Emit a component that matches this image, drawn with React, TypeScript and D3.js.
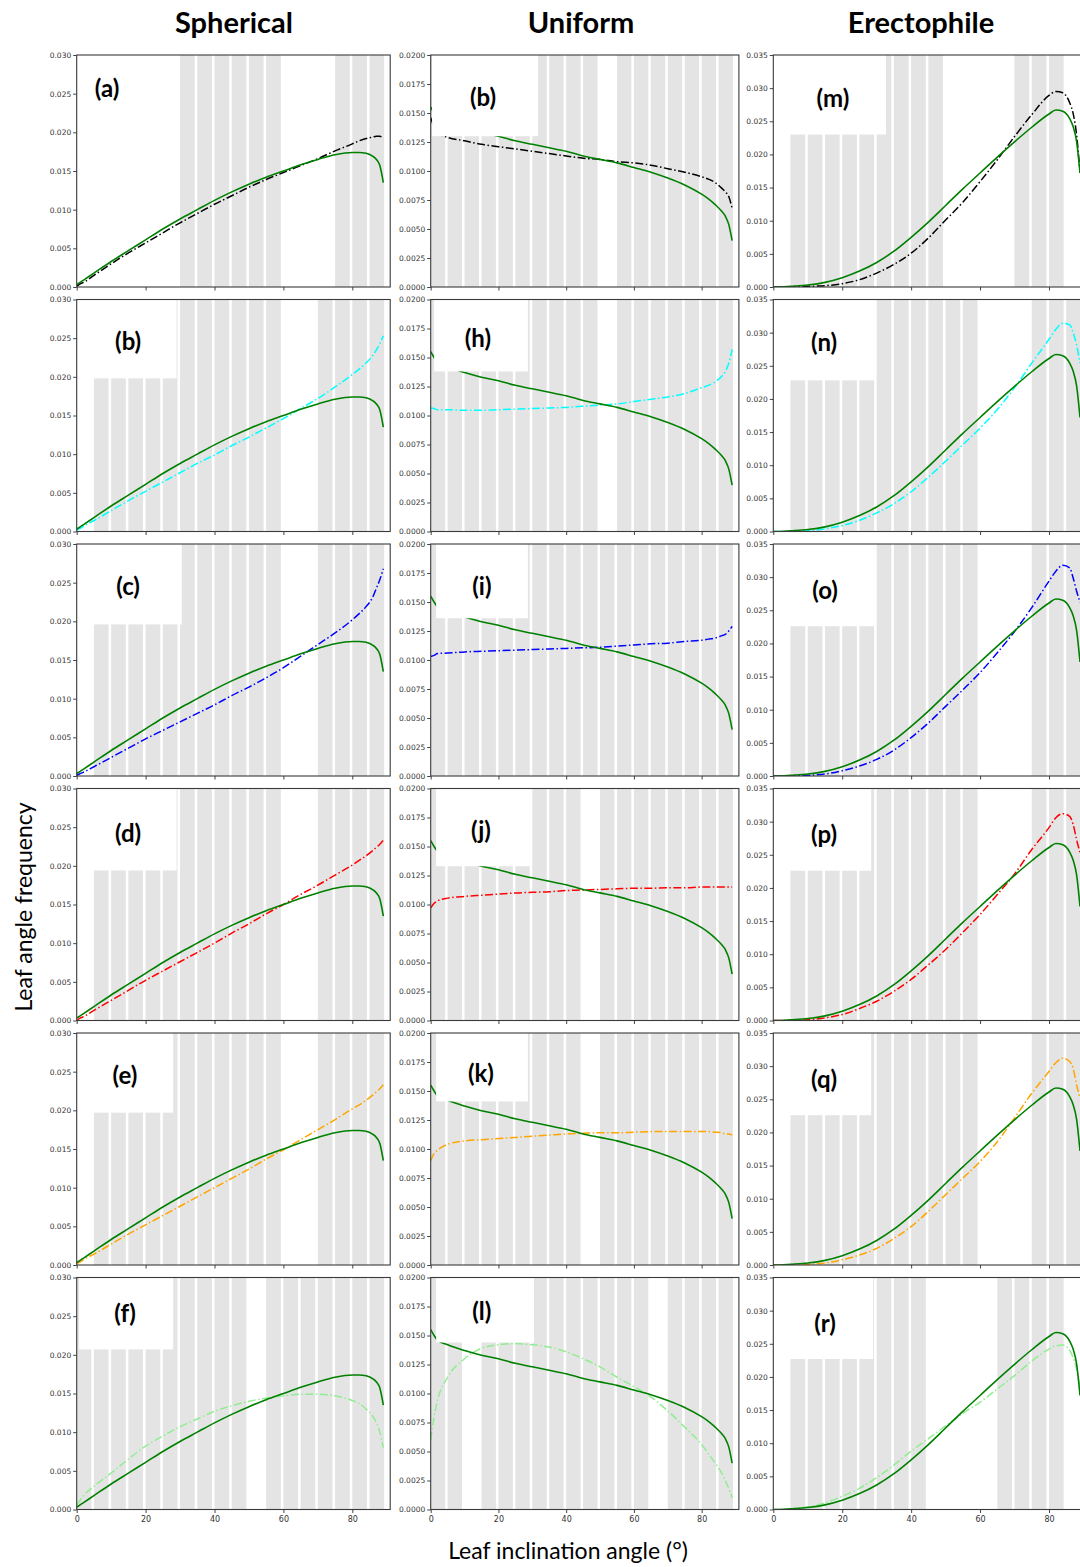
import React, { useEffect, useRef } from "react";
import * as d3 from "d3";

// leaf inclination angles (deg) at which every curve is sampled
const ANGLES = [0, 1, 2, 5, 10, 15, 20, 25, 30, 35, 40, 45, 50, 55, 60, 65, 70, 75, 80, 82, 84, 86, 87, 88, 89];

// fitted reference curves (solid green)
const sphericalFit = [0.0003, 0.0006, 0.0009, 0.0018, 0.0033, 0.0047, 0.0061, 0.0075, 0.0088, 0.0100, 0.0112, 0.0123, 0.0133, 0.0142, 0.0150, 0.0158, 0.0165, 0.0171, 0.0174, 0.0174, 0.0173, 0.0169, 0.0165, 0.0157, 0.0135];
const uniformFit = [0.0155, 0.0150, 0.0146, 0.0142, 0.0137, 0.0133, 0.0130, 0.0126, 0.0123, 0.0120, 0.0117, 0.0113, 0.0110, 0.0107, 0.0103, 0.0099, 0.0094, 0.0088, 0.0080, 0.0076, 0.0071, 0.0065, 0.0061, 0.0054, 0.0040];
const erectophileFit = [0, 0, 0, 0.0001, 0.0003, 0.0007, 0.0014, 0.0024, 0.0037, 0.0054, 0.0075, 0.0098, 0.0123, 0.0148, 0.0172, 0.0196, 0.0219, 0.0241, 0.0261, 0.0267, 0.0265, 0.0254, 0.0242, 0.0220, 0.0172];

// spherical column
const sphA = [0.0001, 0.0004, 0.0006, 0.0015, 0.0030, 0.0044, 0.0057, 0.0070, 0.0083, 0.0095, 0.0107, 0.0118, 0.0129, 0.0139, 0.0148, 0.0157, 0.0166, 0.0176, 0.0185, 0.0189, 0.0192, 0.0194, 0.0195, 0.0195, 0.0192];
const sphB = [0.0002, 0.0004, 0.0007, 0.0014, 0.0027, 0.0040, 0.0052, 0.0064, 0.0076, 0.0088, 0.0099, 0.0111, 0.0122, 0.0134, 0.0146, 0.0159, 0.0172, 0.0187, 0.0203, 0.0210, 0.0218, 0.0228, 0.0235, 0.0243, 0.0253];
const sphC = [0.0001, 0.0003, 0.0005, 0.0012, 0.0024, 0.0036, 0.0048, 0.0059, 0.0070, 0.0081, 0.0092, 0.0104, 0.0115, 0.0127, 0.0140, 0.0155, 0.0170, 0.0185, 0.0202, 0.0210, 0.0219, 0.0232, 0.0243, 0.0254, 0.0268];
const sphD = [0.0000, 0.0003, 0.0005, 0.0013, 0.0026, 0.0039, 0.0052, 0.0064, 0.0076, 0.0088, 0.0100, 0.0113, 0.0125, 0.0138, 0.0150, 0.0163, 0.0175, 0.0188, 0.0201, 0.0207, 0.0213, 0.0220, 0.0224, 0.0228, 0.0233];
const sphE = [0.0002, 0.0004, 0.0007, 0.0014, 0.0027, 0.0040, 0.0052, 0.0064, 0.0076, 0.0088, 0.0100, 0.0112, 0.0124, 0.0137, 0.0149, 0.0162, 0.0175, 0.0188, 0.0202, 0.0207, 0.0213, 0.0220, 0.0224, 0.0228, 0.0233];
const sphF = [0.0006, 0.0012, 0.0018, 0.0030, 0.0047, 0.0065, 0.0082, 0.0095, 0.0107, 0.0117, 0.0127, 0.0134, 0.0140, 0.0144, 0.0147, 0.0149, 0.0149, 0.0147, 0.0141, 0.0137, 0.0130, 0.0120, 0.0112, 0.0100, 0.0080];

// uniform column
const uniB = [0.0146, 0.0138, 0.0133, 0.0129, 0.0126, 0.0123, 0.0121, 0.0119, 0.0117, 0.0115, 0.0113, 0.0111, 0.0110, 0.0108, 0.0107, 0.0105, 0.0102, 0.0099, 0.0095, 0.0093, 0.0090, 0.0085, 0.0082, 0.0078, 0.0068];
const uniH = [0.01065, 0.0106, 0.0105, 0.0105, 0.01045, 0.01045, 0.0105, 0.01055, 0.0106, 0.01065, 0.0107, 0.0108, 0.0109, 0.0110, 0.0112, 0.0114, 0.0116, 0.0119, 0.0124, 0.0126, 0.0129, 0.0134, 0.0138, 0.0145, 0.0157];
const uniI = [0.0103, 0.0104, 0.01055, 0.0106, 0.0107, 0.01075, 0.0108, 0.01085, 0.0109, 0.01095, 0.0110, 0.01105, 0.0111, 0.0112, 0.0113, 0.0114, 0.01145, 0.0116, 0.0117, 0.0118, 0.0119, 0.0121, 0.0122, 0.0125, 0.0129];
const uniJ = [0.0097, 0.0101, 0.0103, 0.01055, 0.0107, 0.0108, 0.0109, 0.0110, 0.01105, 0.0111, 0.0112, 0.01125, 0.0113, 0.01135, 0.0114, 0.0114, 0.01145, 0.01145, 0.0115, 0.0115, 0.0115, 0.0115, 0.0115, 0.0115, 0.0115];
const uniK = [0.0090, 0.0096, 0.0099, 0.0104, 0.0107, 0.0108, 0.0109, 0.0110, 0.0111, 0.0112, 0.0113, 0.01135, 0.0114, 0.0114, 0.01145, 0.0115, 0.0115, 0.0115, 0.0115, 0.0115, 0.01145, 0.0114, 0.0113, 0.0113, 0.0112];
const uniL = [0.0060, 0.0080, 0.0094, 0.0114, 0.0130, 0.0139, 0.0142, 0.0143, 0.0142, 0.0140, 0.0136, 0.0130, 0.0123, 0.0114, 0.0106, 0.0097, 0.0085, 0.0071, 0.0056, 0.0048, 0.0040, 0.0031, 0.0025, 0.0018, 0.0010];

// erectophile column
const ereM = [0, 0, 0, 0, 0.0001, 0.0002, 0.0005, 0.0011, 0.0021, 0.0034, 0.0051, 0.0074, 0.0101, 0.0128, 0.0159, 0.0192, 0.0227, 0.0260, 0.0289, 0.0295, 0.0293, 0.0278, 0.0262, 0.0230, 0.0172];
const ereN = [0, 0, 0, 0, 0.0001, 0.0004, 0.0009, 0.0017, 0.0028, 0.0042, 0.0060, 0.0082, 0.0106, 0.0131, 0.0156, 0.0184, 0.0217, 0.0254, 0.0290, 0.0305, 0.0314, 0.0312, 0.0300, 0.0282, 0.0254];
const ereO = [0, 0, 0, 0, 0.0001, 0.0003, 0.0008, 0.0015, 0.0025, 0.0039, 0.0058, 0.0080, 0.0105, 0.0130, 0.0156, 0.0186, 0.0218, 0.0254, 0.0294, 0.0309, 0.0318, 0.0314, 0.0299, 0.0279, 0.0262];
const ereP = [0, 0, 0, 0, 0.0001, 0.0004, 0.0009, 0.0018, 0.0029, 0.0044, 0.0062, 0.0084, 0.0107, 0.0133, 0.0160, 0.0190, 0.0221, 0.0258, 0.0291, 0.0306, 0.0312, 0.0308, 0.0296, 0.0273, 0.0253];
const ereQ = [0, 0, 0, 0, 0.0001, 0.0003, 0.0008, 0.0015, 0.0025, 0.0040, 0.0058, 0.0081, 0.0106, 0.0131, 0.0156, 0.0186, 0.0222, 0.0259, 0.0292, 0.0305, 0.0312, 0.0307, 0.0297, 0.0272, 0.0252];
const ereR = [0, 0, 0, 0.0001, 0.0004, 0.0010, 0.0020, 0.0032, 0.0048, 0.0067, 0.0088, 0.0107, 0.0126, 0.0145, 0.0162, 0.0182, 0.0202, 0.0224, 0.0242, 0.0247, 0.0248, 0.0240, 0.0229, 0.0212, 0.0184];

// histogram bins (start angle) drawn as grey bars behind the curves
const sphBars = [
  [30, 35, 40, 45, 50, 55, 75, 80, 85],
  [5, 10, 15, 20, 25, 30, 35, 40, 45, 50, 55, 70, 75, 80, 85],
  [5, 10, 15, 20, 25, 30, 35, 40, 45, 50, 55, 70, 75, 80, 85],
  [5, 10, 15, 20, 25, 30, 35, 40, 45, 50, 55, 70, 75, 80, 85],
  [5, 10, 15, 20, 25, 30, 35, 40, 45, 50, 55, 70, 75, 80, 85],
  [0, 5, 10, 15, 20, 25, 30, 35, 40, 45, 55, 60, 65, 70, 75, 80, 85],
];
const uniBars = [
  [0, 5, 10, 15, 20, 25, 30, 35, 40, 45, 55, 60, 65, 70, 75, 80, 85],
  [0, 5, 10, 15, 20, 25, 30, 35, 40, 45, 55, 60, 65, 70, 75, 80, 85],
  [0, 5, 10, 15, 20, 25, 30, 35, 40, 45, 50, 55, 60, 65, 70, 75, 80, 85],
  [0, 5, 10, 15, 20, 25, 30, 35, 40, 50, 55, 60, 65, 70, 75, 80, 85],
  [0, 5, 10, 15, 20, 25, 30, 35, 40, 50, 55, 60, 65, 70, 75, 80, 85],
  [0, 5, 15, 20, 25, 30, 35, 40, 45, 50, 55, 60, 70, 75, 80, 85],
];
const ereBars = [
  [5, 10, 15, 20, 25, 30, 35, 40, 45, 70, 75, 80],
  [5, 10, 15, 20, 25, 30, 35, 40, 45, 50, 55, 75, 80, 85],
  [5, 10, 15, 20, 25, 30, 35, 40, 45, 50, 55, 75, 80, 85],
  [5, 10, 15, 20, 25, 30, 35, 40, 45, 50, 55, 75, 80, 85],
  [5, 10, 15, 20, 25, 30, 35, 40, 45, 50, 55, 75, 80, 85],
  [5, 10, 15, 20, 25, 30, 35, 40, 65, 70, 75, 80],
];

const columnTitles = ["Spherical", "Uniform", "Erectophile"];
const sphLabels = ["(a)", "(b)", "(c)", "(d)", "(e)", "(f)"];
const uniLabels = ["(b)", "(h)", "(i)", "(j)", "(k)", "(l)"];
const ereLabels = ["(m)", "(n)", "(o)", "(p)", "(q)", "(r)"];
const seriesColors = ["black", "cyan", "blue", "red", "orange", "lightgreen"];
const xTicks = [0, 20, 40, 60, 80];

// layout
const COL_X = [76.7, 430.7, 773.3];
const COL_W = [313.5, 308.2, 313.6];
const ROW_TOP = 55;
const ROW_STEP = 244.5;
const PANEL_H = 232;
const BAR_W = 4.25;

// white legend boxes: [x0 deg, x1 deg, bottom value]
const sphBoxes = [null, [1.2, 29, 0.0198], [1.2, 30.5, 0.0196], [1.2, 29, 0.0194], [1.0, 28, 0.0197], [0.7, 28, 0.0207]];
const uniBoxes = [[0.4, 31.7, 0.0130], [1.0, 28.7, 0.0138], [1.6, 28.7, 0.0136], [1.6, 29.3, 0.0133], [1.6, 28.7, 0.0141], [1.6, 30.5, 0.0144]];
const ereBoxes = [[1.1, 32.7, 0.0230], [1.45, 29.2, 0.0228], [1.45, 29.2, 0.0226], [1.45, 28.4, 0.0226], [1.45, 28.4, 0.0226], [1.3, 29.0, 0.0227]];

// label centres in axes fraction
const sphLabelPos = [[0.097, 0.14], [0.164, 0.175], [0.164, 0.181], [0.164, 0.1875], [0.154, 0.177], [0.154, 0.153]];
const uniLabelPos = [[0.17, 0.177], [0.153, 0.162], [0.166, 0.181], [0.163, 0.175], [0.163, 0.172], [0.166, 0.144]];
const ereLabelPos = [[0.19, 0.185], [0.162, 0.183], [0.165, 0.198], [0.162, 0.196], [0.162, 0.194], [0.165, 0.192]];

const columns = [
  { fit: sphericalFit, series: [sphA, sphB, sphC, sphD, sphE, sphF], bars: sphBars, labels: sphLabels, boxes: sphBoxes, labelPos: sphLabelPos, yMax: 0.030, yStep: 0.005, fmt: ".3f" },
  { fit: uniformFit, series: [uniB, uniH, uniI, uniJ, uniK, uniL], bars: uniBars, labels: uniLabels, boxes: uniBoxes, labelPos: uniLabelPos, yMax: 0.020, yStep: 0.0025, fmt: ".4f" },
  { fit: erectophileFit, series: [ereM, ereN, ereO, ereP, ereQ, ereR], bars: ereBars, labels: ereLabels, boxes: ereBoxes, labelPos: ereLabelPos, yMax: 0.035, yStep: 0.005, fmt: ".3f" },
];

export default function App() {
  const svgRef = useRef<SVGSVGElement>(null);

  useEffect(() => {
    const svg = d3.select(svgRef.current);
    svg.selectAll("*").remove();

    columns.forEach((col, ci) => {
      const x = d3.scaleLinear().domain([0, 91]).range([0, COL_W[ci]]);
      const y = d3.scaleLinear().domain([0, col.yMax]).range([PANEL_H, 0]);
      const line = d3
        .line<number>()
        .x((d, i) => x(ANGLES[i]))
        .y((d) => y(d))
        .curve(d3.curveMonotoneX);

      col.series.forEach((values, ri) => {
        const g = svg
          .append("g")
          .attr("transform", `translate(${COL_X[ci]},${ROW_TOP + ri * ROW_STEP})`);

        const clipId = `clip-${ci}-${ri}`;
        g.append("clipPath")
          .attr("id", clipId)
          .append("rect")
          .attr("width", COL_W[ci])
          .attr("height", PANEL_H);
        const inner = g.append("g").attr("clip-path", `url(#${clipId})`);

        inner
          .selectAll("rect.bar")
          .data(col.bars[ri])
          .enter()
          .append("rect")
          .attr("class", "bar")
          .attr("x", (d) => x(d))
          .attr("width", x(BAR_W) - x(0))
          .attr("y", y(col.yMax))
          .attr("height", y(0) - y(col.yMax))
          .attr("fill", "#e4e4e4");

        inner
          .append("path")
          .attr("d", line(values))
          .attr("fill", "none")
          .attr("stroke", seriesColors[ri])
          .attr("stroke-width", 1.5)
          .attr("stroke-dasharray", "8,2.5,1.5,2.5");

        inner
          .append("path")
          .attr("d", line(col.fit))
          .attr("fill", "none")
          .attr("stroke", "green")
          .attr("stroke-width", 1.6);

        const box = col.boxes[ri];
        if (box) {
          inner
            .append("rect")
            .attr("x", x(box[0]))
            .attr("width", x(box[1]) - x(box[0]))
            .attr("y", y(col.yMax))
            .attr("height", y(box[2]) - y(col.yMax))
            .attr("fill", "white");
        }

        const [fx, fy] = col.labelPos[ri];
        inner
          .append("text")
          .attr("x", fx * COL_W[ci])
          .attr("y", fy * PANEL_H)
          .attr("text-anchor", "middle")
          .attr("dominant-baseline", "central")
          .style("font-family", "Lato, 'Open Sans', sans-serif")
          .style("font-weight", "700")
          .style("font-size", "24px")
          .text(col.labels[ri]);

        const yAxis = g
          .append("g")
          .call(
            d3
              .axisLeft(y)
              .tickValues(d3.range(0, col.yMax + 1e-9, col.yStep))
              .tickFormat(d3.format(col.fmt))
              .tickSize(3.5)
              .tickPadding(2)
          );
        yAxis.select(".domain").remove();
        yAxis.selectAll("text").style("font-family", "'DejaVu Sans', sans-serif").style("font-size", "7.5px").attr("fill", "#333");
        yAxis.selectAll(".tick line").attr("stroke", "#444");

        const xAxis = g
          .append("g")
          .attr("transform", `translate(0,${PANEL_H})`)
          .call(
            d3
              .axisBottom(x)
              .tickValues(xTicks)
              .tickSize(3.5)
              .tickPadding(3)
              .tickFormat((d) => (ri === 5 ? d3.format("d")(d as number) : ""))
          );
        xAxis.select(".domain").remove();
        xAxis.selectAll("text").style("font-family", "'DejaVu Sans', sans-serif").style("font-size", "8px").attr("fill", "#333");
        xAxis.selectAll(".tick line").attr("stroke", "#444");

        g.append("rect")
          .attr("width", COL_W[ci])
          .attr("height", PANEL_H)
          .attr("fill", "none")
          .attr("stroke", "#3a3a3a")
          .attr("stroke-width", 1.1);
      });
    });

    const titleX = [234, 581, 921];
    svg
      .selectAll("text.col-title")
      .data(columnTitles)
      .enter()
      .append("text")
      .attr("class", "col-title")
      .attr("x", (d, i) => titleX[i])
      .attr("y", 33)
      .attr("text-anchor", "middle")
      .style("font-family", "Lato, 'Open Sans', sans-serif")
      .style("font-weight", "700")
      .style("font-size", "29px")
      .text((d) => d);

    svg
      .append("text")
      .attr("transform", "translate(23,907) rotate(-90)")
      .attr("text-anchor", "middle")
      .attr("dominant-baseline", "central")
      .style("font-family", "Lato, 'Open Sans', sans-serif")
      .style("font-size", "23px")
      .text("Leaf angle frequency");

    svg
      .append("text")
      .attr("x", 568)
      .attr("y", 1559)
      .attr("text-anchor", "middle")
      .style("font-family", "Lato, 'Open Sans', sans-serif")
      .style("font-size", "23px")
      .text("Leaf inclination angle (°)");
  }, []);

  return (
    <svg
      ref={svgRef}
      width={1080}
      height={1567}
      style={{ position: "absolute", left: 0, top: 0, background: "white" }}
    />
  );
}
